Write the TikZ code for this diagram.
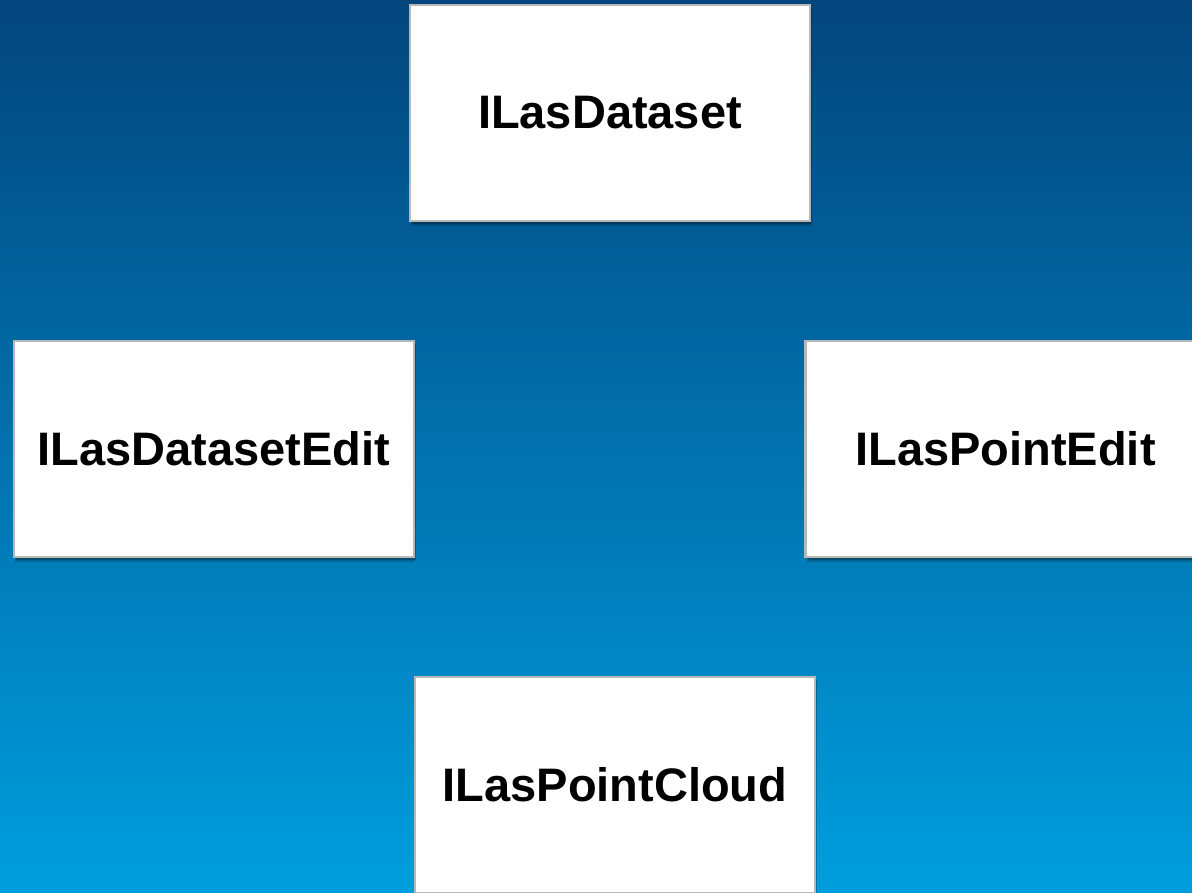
\documentclass[tikz,border=0pt]{standalone}
\usepackage{fontspec}
\setmainfont{Liberation Sans}
\usetikzlibrary{shadows}
\definecolor{bgtop}{HTML}{03457C}
\definecolor{bgbot}{HTML}{009EDE}
\definecolor{boxline}{HTML}{B8B8B8}
\tikzset{
  iface/.style={rectangle, draw=boxline, line width=2.5pt, fill=white,
    minimum width=400pt, minimum height=216pt, inner sep=0pt,
    font=\fontsize{47}{56}\selectfont\bfseries, text=black,
    general shadow={shadow xshift=1pt, shadow yshift=-5pt, opacity=0.18, fill=black},
    general shadow={shadow xshift=2pt, shadow yshift=-3pt, opacity=0.25, fill=black}}
}
\begin{document}
\begin{tikzpicture}[x=1pt,y=-1pt]
\useasboundingbox (0,0) rectangle (1192,892);
\clip (0,0) rectangle (1192,892);
\shade[top color=bgtop, bottom color=bgbot] (0,0) rectangle (1192,892);
\node[iface] (ds) at (610,113) {ILasDataset};
\node[iface] (dse) at (214,449) {ILasDatasetEdit};
\node[iface] (pe) at (1005.5,449) {ILasPointEdit};
\node[iface] (pc) at (615,785) {ILasPointCloud};
\end{tikzpicture}
\end{document}
